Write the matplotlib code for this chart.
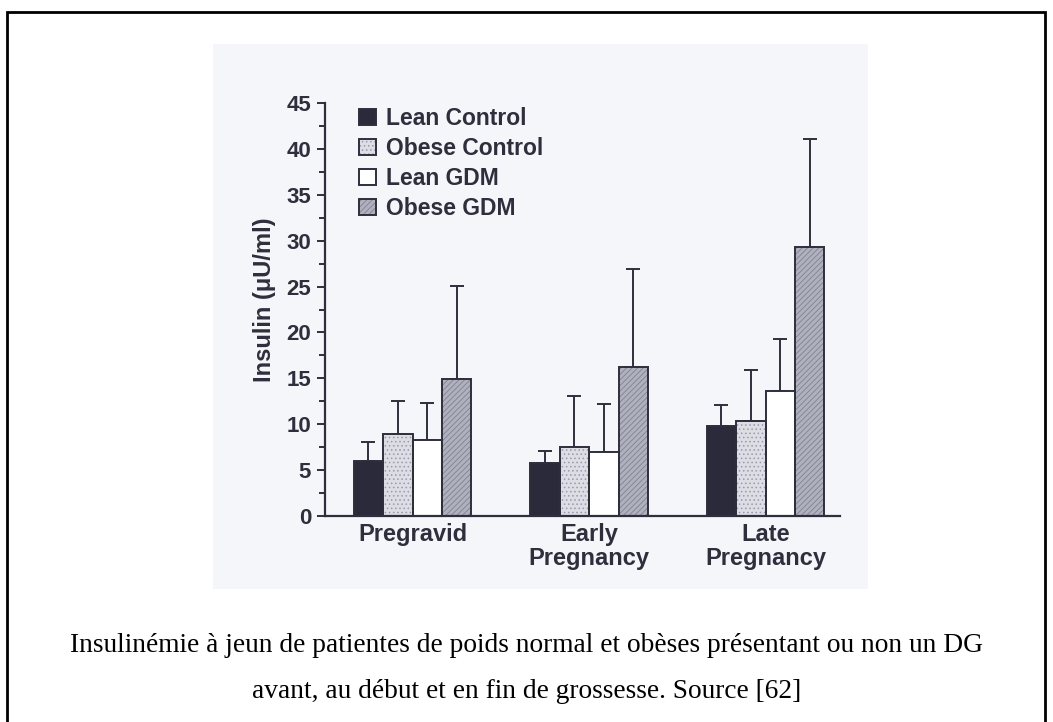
import matplotlib
matplotlib.use("Agg")
import matplotlib.pyplot as plt
import numpy as np
from matplotlib.patches import Rectangle

# data
stages = ["Pregravid", "Early\nPregnancy", "Late\nPregnancy"]
groups = ["Lean Control", "Obese Control", "Lean GDM", "Obese GDM"]
lean_control = [6.0, 5.8, 9.8]
obese_control = [8.9, 7.5, 10.4]
lean_gdm = [8.3, 7.0, 13.6]
obese_gdm = [14.9, 16.2, 29.3]
lean_control_top = [8.1, 7.1, 12.1]
obese_control_top = [12.5, 13.1, 15.9]
lean_gdm_top = [12.3, 12.2, 19.3]
obese_gdm_top = [25.1, 26.9, 41.1]
caption_lines = ["Insulinémie à jeun de patientes de poids normal et obèses présentant ou non un DG",
                 "avant, au début et en fin de grossesse. Source [62]"]

means = [lean_control, obese_control, lean_gdm, obese_gdm]
tops = [lean_control_top, obese_control_top, lean_gdm_top, obese_gdm_top]

faces = ["#2b2a3a", "#dcdde5", "#ffffff", "#b0b1bf"]
hatches = [None, "....", None, "//////"]
hatch_cols = ["#2b2a3a", "#9a9aa8", "#ffffff", "#80818f"]
edge = "#2e2e3c"

plt.rcParams["font.family"] = ["Liberation Sans", "DejaVu Sans"]
plt.rcParams["hatch.linewidth"] = 0.6

W, H = 1053, 722
fig = plt.figure(figsize=(W / 100, H / 100), dpi=100)
fig.patch.set_facecolor("white")

# outer frame of the document
fig.add_artist(Rectangle((7 / W, -0.01), (1045 - 7) / W, (H - 12) / H + 0.01,
                         transform=fig.transFigure, fill=False, lw=2, ec="black"))
# scanned picture background
fig.add_artist(Rectangle((213 / W, (H - 589) / H), 655 / W, 545 / H,
                         transform=fig.transFigure, fc="#f5f6fa", ec="none", zorder=0))

ax = fig.add_axes([325 / W, (H - 516) / H, (840 - 325) / W, (516 - 103) / H])
ax.set_facecolor("none")

x = np.arange(len(stages))
w = 0.167
handles = []
for i in range(4):
    pos = x + (i - 1.5) * w
    fill = ax.bar(pos, means[i], w, color=faces[i], hatch=hatches[i],
                  edgecolor=hatch_cols[i], linewidth=0, zorder=2)
    outline = ax.bar(pos, means[i], w, fill=False, edgecolor=edge,
                     linewidth=1.4, zorder=3)
    err = np.array(tops[i]) - np.array(means[i])
    ax.errorbar(pos, means[i], yerr=[np.zeros(3), err], fmt="none",
                ecolor=edge, elinewidth=1.4, capsize=4.7, capthick=1.4, zorder=1)
    handles.append((fill[0], outline[0]))

ax.set_xlim(-0.496, 2.422)
ax.set_ylim(0, 45)
ax.set_yticks(np.arange(0, 46, 5))
ax.set_yticks(np.arange(0, 45, 2.5), minor=True)
ax.set_xticks(x)
ax.set_xticklabels(stages, fontsize=17, fontweight="bold", color="#2e2e3c",
                   linespacing=1.05)
ax.tick_params(axis="x", length=0, pad=5)
ax.tick_params(axis="y", which="major", length=6, width=1.4, color=edge,
               labelsize=16, labelcolor="#2e2e3c", pad=4)
ax.tick_params(axis="y", which="minor", length=4, width=1.4, color=edge)
for lab in ax.get_yticklabels():
    lab.set_fontweight("bold")
ax.spines["top"].set_visible(False)
ax.spines["right"].set_visible(False)
for s in ["left", "bottom"]:
    ax.spines[s].set_linewidth(1.6)
    ax.spines[s].set_color(edge)

ax.set_ylabel("Insulin (\u03bcU/ml)", fontsize=17, fontweight="bold", color="#2e2e3c")
ax.yaxis.set_label_coords(-0.095, (516 - 300) / (516 - 103))

leg = ax.legend(handles, groups, loc="upper left",
                bbox_to_anchor=(359 / W, (H - 107) / H), bbox_transform=fig.transFigure,
                frameon=False, handlelength=0.72, handleheight=0.72,
                handletextpad=0.45, labelspacing=0.31, borderaxespad=0, borderpad=0,
                prop={"weight": "bold", "size": 16.5})
for t in leg.get_texts():
    t.set_color("#2e2e3c")

serif = ["Liberation Serif", "DejaVu Serif"]
fig.text(0.5, (H - 645) / H, caption_lines[0], ha="center", va="center",
         fontsize=19.7, family=serif)
fig.text(0.5, (H - 692) / H, caption_lines[1], ha="center", va="center",
         fontsize=19.7, family=serif)

fig.savefig("out.png", dpi=100)
